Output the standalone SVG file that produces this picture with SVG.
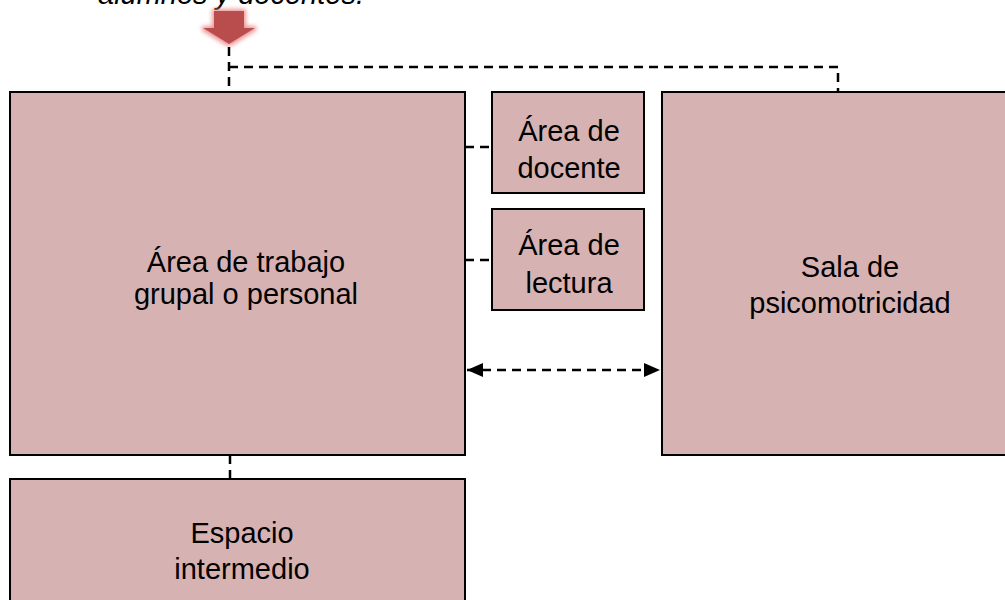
<svg xmlns="http://www.w3.org/2000/svg" width="1005" height="600" viewBox="0 0 1005 600">
<style>
.box{fill:#d7b2b2;stroke:#000;stroke-width:2}
.lbl{font-family:"Liberation Sans",Arial,sans-serif;font-size:29px;fill:#000;text-anchor:middle}
.dash{fill:none;stroke:#000;stroke-width:2.5;stroke-dasharray:9 6}
</style>
<defs>
<filter id="glow" x="-50%" y="-50%" width="200%" height="200%">
<feMorphology in="SourceAlpha" operator="dilate" radius="1.5" result="d"/>
<feGaussianBlur in="d" stdDeviation="2" result="b"/>
<feFlood flood-color="#ec8c8c" flood-opacity="0.9"/>
<feComposite in2="b" operator="in" result="g"/>
<feMerge><feMergeNode in="g"/><feMergeNode in="SourceGraphic"/></feMerge>
</filter>
<marker id="ah" viewBox="0 0 16 14" refX="16" refY="7" markerWidth="16" markerHeight="14" orient="auto-start-reverse" markerUnits="userSpaceOnUse">
<path d="M0,0 L16,7 L0,14 Z" fill="#000"/>
</marker>
</defs>
<text x="231" y="4" class="lbl" font-style="italic" font-size="27">alumnos y docentes.</text>
<g id="entry-arrow">
<path d="M214,11 H244 V28 H255 L229,44 L203,28 H214 Z" fill="#b94d4d" filter="url(#glow)"/>
</g>
<g id="connectors">
<path class="dash" d="M229,47 V92"/>
<path class="dash" d="M229,67 H838 V92"/>
<path class="dash" d="M465,147 H492"/>
<path class="dash" d="M465,260 H492"/>
<path class="dash" d="M230,455 V479"/>
<path class="dash" d="M467,370 H660" marker-start="url(#ah)" marker-end="url(#ah)"/>
</g>
<g id="area-trabajo">
<rect class="box" x="10" y="92" width="455" height="363"/>
<text class="lbl" x="246" y="272">Área de trabajo</text>
<text class="lbl" x="246" y="304">grupal o personal</text>
</g>
<g id="area-docente">
<rect class="box" x="492" y="92" width="152" height="101"/>
<text class="lbl" x="569" y="141">Área de</text>
<text class="lbl" x="569" y="178">docente</text>
</g>
<g id="area-lectura">
<rect class="box" x="492" y="209" width="152" height="101"/>
<text class="lbl" x="569" y="255">Área de</text>
<text class="lbl" x="569" y="293">lectura</text>
</g>
<g id="sala-psicomotricidad">
<rect class="box" x="662" y="92" width="380" height="363"/>
<text class="lbl" x="850" y="277">Sala de</text>
<text class="lbl" x="850" y="313">psicomotricidad</text>
</g>
<g id="espacio-intermedio">
<rect class="box" x="10" y="479" width="455" height="140"/>
<text class="lbl" x="242" y="543">Espacio</text>
<text class="lbl" x="242" y="579">intermedio</text>
</g>
</svg>
